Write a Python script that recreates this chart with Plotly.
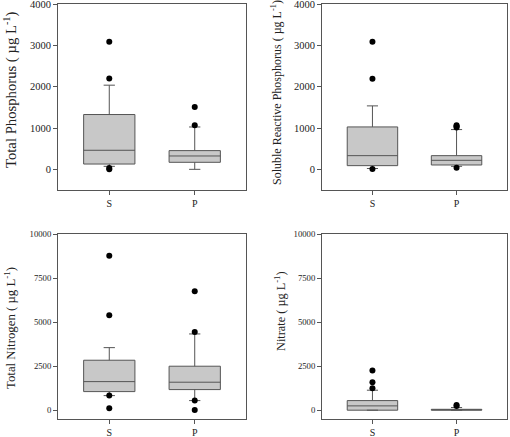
import plotly.graph_objects as go

categories = ["S", "P"]

# Total Phosphorus
tp_q1 = [128, 170]
tp_median = [461, 323]
tp_q3 = [1326, 453]
tp_lower = [73, 0]
tp_upper = [2036, 1025]
tp_out_S = [3086, 2199, 32, 5]
tp_out_P = [1511, 1067]

# Soluble Reactive Phosphorus
srp_q1 = [89, 105]
srp_median = [331, 218]
srp_q3 = [1026, 331]
srp_lower = [20, 73]
srp_upper = [1535, 962]
srp_out_S = [3086, 2190, 10]
srp_out_P = [1067, 1040, 1010, 40]

# Total Nitrogen
tn_q1 = [1055, 1169]
tn_median = [1622, 1588]
tn_q3 = [2836, 2496]
tn_lower = [828, 545]
tn_upper = [3550, 4328]
tn_out_S = [8770, 5388, 828, 113]
tn_out_P = [6750, 4441, 545, 17]

# Nitrate
no3_q1 = [0, 0]
no3_median = [244, 20]
no3_q3 = [545, 50]
no3_lower = [0, 0]
no3_upper = [1134, 150]
no3_out_S = [2246, 1588, 1248]
no3_out_P = [300, 240]

top_ticks = [0, 1000, 2000, 3000, 4000]
bottom_ticks = [0, 2500, 5000, 7500, 10000]

titles = [
    "Total Phosphorus ( µg L<sup>-1</sup>)",
    "Soluble Reactive Phosphorus ( µg L<sup>-1</sup>)",
    "Total Nitrogen ( µg L<sup>-1</sup>)",
    "Nitrate ( µg L<sup>-1</sup>)",
]

panels = [
    (tp_q1, tp_median, tp_q3, tp_lower, tp_upper, tp_out_S, tp_out_P),
    (srp_q1, srp_median, srp_q3, srp_lower, srp_upper, srp_out_S, srp_out_P),
    (tn_q1, tn_median, tn_q3, tn_lower, tn_upper, tn_out_S, tn_out_P),
    (no3_q1, no3_median, no3_q3, no3_lower, no3_upper, no3_out_S, no3_out_P),
]

W, H = 510, 437
xdoms = [[58 / W, 246 / W], [322 / W, 507 / W]]
ydoms = [[1 - 190 / H, 1 - 4 / H], [1 - 419 / H, 1 - 234 / H]]
# title centres in pixels (x, y from top) and font sizes
title_pos = [(10, 90, 14.7), (277, 93, 12), (10, 328, 12.8), (280, 311, 12.3)]
tick_sizes = [10.5, 10.5, 8.7, 8.7]

FONT = "Liberation Serif, Times New Roman, serif"
LINE = "#555555"

fig = go.Figure()
layout = {}
annotations = []
for i, (q1, med, q3, lo, hi, oS, oP) in enumerate(panels):
    n = i + 1
    xa = "x" if n == 1 else f"x{n}"
    ya = "y" if n == 1 else f"y{n}"
    fig.add_trace(go.Box(
        x=categories, q1=q1, median=med, q3=q3, lowerfence=lo, upperfence=hi,
        width=0.6, whiskerwidth=0.22, fillcolor="#c8c8c8",
        line=dict(color=LINE, width=1), boxpoints=False,
        xaxis=xa, yaxis=ya, showlegend=False, hoverinfo="skip",
    ))
    fig.add_trace(go.Scatter(
        x=["S"] * len(oS) + ["P"] * len(oP), y=oS + oP, mode="markers",
        marker=dict(color="black", size=6), xaxis=xa, yaxis=ya,
        showlegend=False, hoverinfo="skip",
    ))
    row, col = i // 2, i % 2
    top = row == 0
    layout[f"xaxis{'' if n == 1 else n}"] = dict(
        domain=xdoms[col], anchor=ya, type="category",
        categoryorder="array", categoryarray=categories,
        range=[-0.6, 1.6], showline=True, mirror=True, linecolor=LINE,
        linewidth=1, ticks="outside", ticklen=4, tickcolor=LINE,
        showgrid=False, zeroline=False, automargin=False,
        tickfont=dict(family=FONT, size=10, color="#222"),
    )
    layout[f"yaxis{'' if n == 1 else n}"] = dict(
        domain=ydoms[row], anchor=xa,
        range=[-500, 4000] if top else [-500, 10000],
        tickvals=top_ticks if top else bottom_ticks,
        ticktext=[str(v) for v in (top_ticks if top else bottom_ticks)],
        showline=True, mirror=True, linecolor=LINE, linewidth=1,
        ticks="outside", ticklen=4, tickcolor=LINE,
        showgrid=False, zeroline=False, automargin=False,
        ticklabeloverflow="allow",
        tickfont=dict(family=FONT, size=tick_sizes[i], color="#222"),
    )
    tx, ty, fs = title_pos[i]
    annotations.append(dict(
        text=titles[i], textangle=-90, showarrow=False,
        xref="paper", yref="paper", x=tx / W, y=1 - ty / H,
        xanchor="center", yanchor="middle",
        font=dict(family=FONT, size=fs, color="#222"),
    ))

fig.update_layout(
    width=W, height=H, margin=dict(l=0, r=0, t=0, b=0),
    paper_bgcolor="white", plot_bgcolor="white",
    font=dict(family=FONT), annotations=annotations,
    **layout,
)
fig.write_html("out.html", config={"displayModeBar": False},
               post_script="document.body.style.margin='0';")
